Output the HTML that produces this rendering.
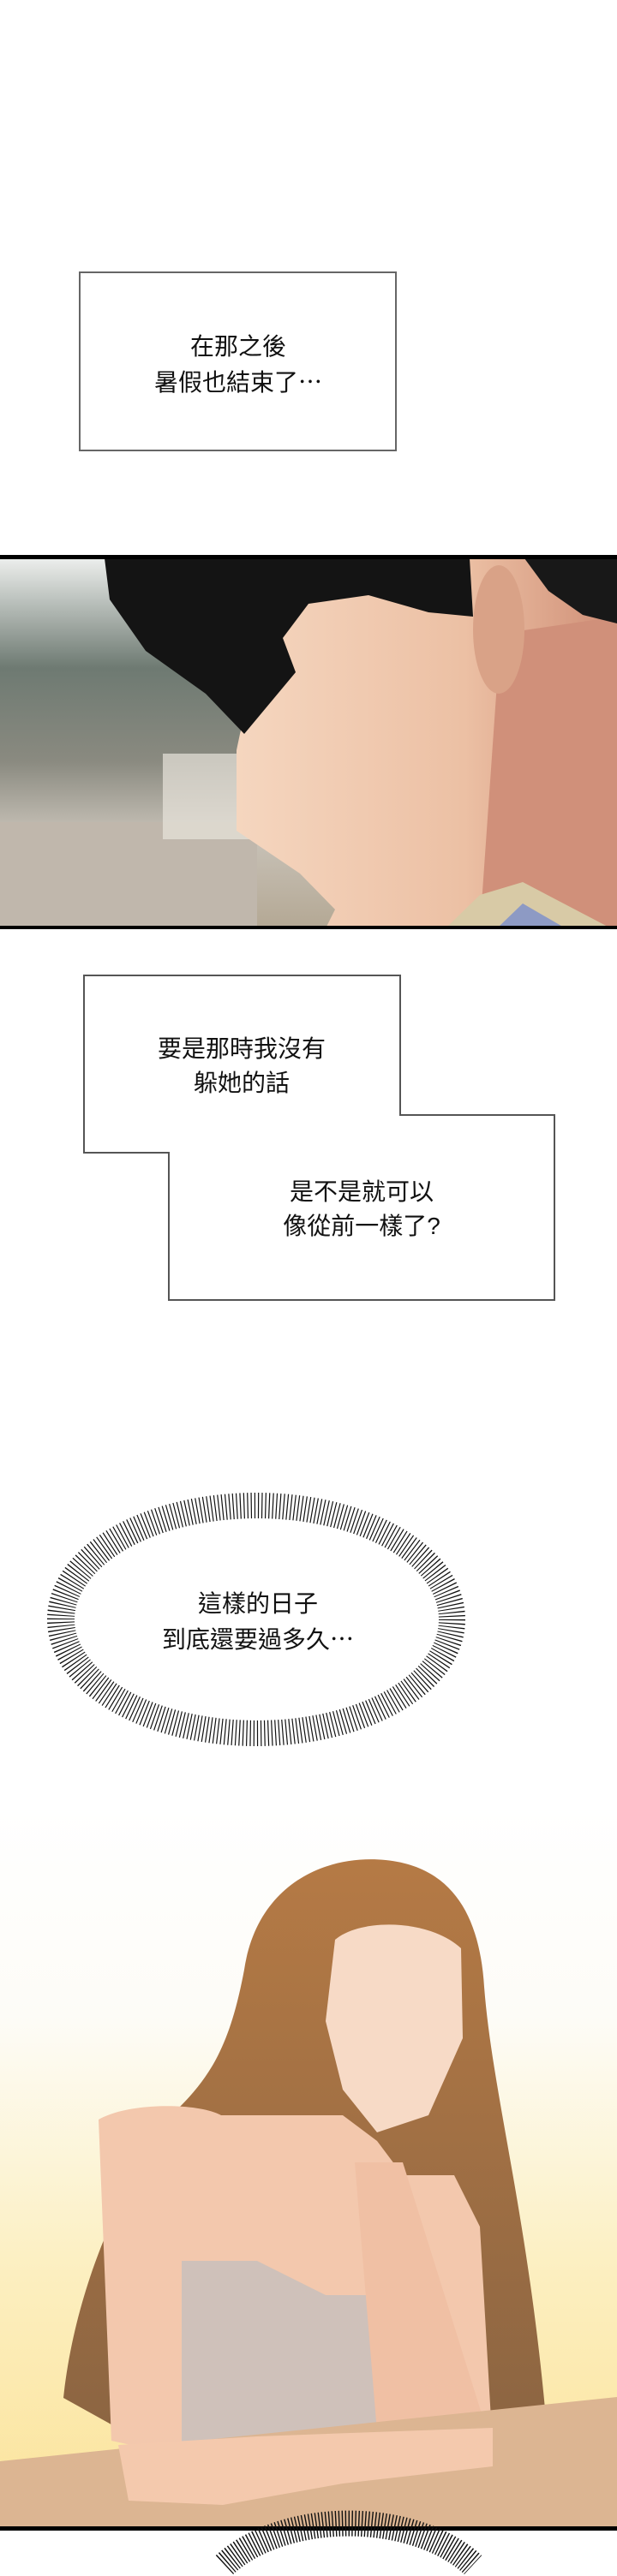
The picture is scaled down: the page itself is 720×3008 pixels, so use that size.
<!DOCTYPE html>
<html><head><meta charset="utf-8"><style>
html,body{margin:0;padding:0;background:#fff;width:720px;height:3008px;overflow:hidden;}
body{position:relative;font-family:"Liberation Sans","Noto Sans CJK TC",sans-serif;}
.t{position:absolute;font-size:28px;line-height:40px;color:#111;text-align:center;white-space:nowrap;}
.e{font-family:"Noto Sans CJK TC",sans-serif;}
</style></head><body>
<svg width="720" height="3008" viewBox="0 0 720 3008" style="position:absolute;left:0;top:0;display:block;overflow:hidden">
<defs>
<linearGradient id="bg1" x1="0" y1="0" x2="0" y2="1"><stop offset="0" stop-color="#eef0ee"/><stop offset="0.3" stop-color="#6e7a72"/><stop offset="0.55" stop-color="#8a8a80"/><stop offset="0.75" stop-color="#c8c2b8"/><stop offset="1" stop-color="#b4a894"/></linearGradient>
<linearGradient id="skin1" x1="0" y1="0" x2="1" y2="0"><stop offset="0" stop-color="#f5d6bf"/><stop offset="0.6" stop-color="#ecc0a4"/><stop offset="1" stop-color="#cf8e76"/></linearGradient>
<linearGradient id="bg2" x1="0" y1="0" x2="0" y2="1"><stop offset="0" stop-color="#ffffff"/><stop offset="0.3" stop-color="#fdfcf7"/><stop offset="0.65" stop-color="#fcefc0"/><stop offset="1" stop-color="#fbe39a"/></linearGradient>
<linearGradient id="hair2" x1="0" y1="0" x2="0" y2="1"><stop offset="0" stop-color="#b57a45"/><stop offset="1" stop-color="#8a6442"/></linearGradient>
</defs>
<rect x="93" y="318" width="369" height="208" fill="#fff" stroke="#666" stroke-width="2"/>
<rect x="0" y="650" width="720" height="434" fill="url(#bg1)"/>
<rect x="0" y="960" width="300" height="124" fill="#c0b7ac"/>
<rect x="190" y="880" width="120" height="100" fill="#e8e4dc" opacity="0.7"/>
<path d="M330 650 L720 650 L720 1084 L380 1084 L391 1062 L350 1020 L276 970 L276 876 L280 857 Z" fill="url(#skin1)"/>
<path d="M584 740 L720 720 L720 1084 L560 1084 Z" fill="#d0907a"/>
<ellipse cx="582" cy="735" rx="30" ry="75" fill="#d9a287"/>
<path d="M122 652 L548 652 L552 720 L500 715 L430 695 L360 705 L330 745 L345 785 L285 857 L240 810 L170 760 L128 700 Z" fill="#141414"/>
<path d="M612 652 L720 652 L720 728 L680 718 L640 690 Z" fill="#181818"/>
<path d="M520 1084 L560 1045 L610 1030 L713 1084 Z" fill="#d8caa6"/>
<path d="M580 1084 L610 1055 L660 1084 Z" fill="#8d9ac4"/>
<rect x="0" y="648" width="720" height="5" fill="#000"/>
<rect x="0" y="1081" width="720" height="4" fill="#000"/>
<polygon points="98,1139 467,1139 467,1302 647,1302 647,1518 197,1518 197,1346 98,1346" fill="#fff" stroke="#555" stroke-width="2"/>
<ellipse cx="299" cy="1891" rx="228" ry="132" fill="none" stroke="#111" stroke-width="32" stroke-dasharray="1.2 3"/>
<ellipse cx="300" cy="1891" rx="212" ry="118" fill="#fff"/>
<rect x="0" y="2100" width="720" height="852" fill="url(#bg2)"/>
<rect x="0" y="2040" width="720" height="80" fill="#fff" opacity="0.6"/>
<path d="M285 2300 C300 2200 380 2165 450 2172 C530 2180 560 2240 565 2320 C575 2450 620 2600 640 2860 L520 2870 L200 2870 L74 2800 C90 2650 160 2520 210 2460 C250 2420 270 2380 285 2300 Z" fill="url(#hair2)"/>
<path d="M391 2265 C420 2240 500 2240 538 2275 L540 2380 L500 2470 L440 2490 L400 2440 L380 2360 Z" fill="#f7dac6"/>
<path d="M115 2475 C150 2455 230 2455 258 2470 L340 2470 L400 2470 L440 2500 L470 2540 L530 2540 L560 2600 L575 2860 L220 2870 L130 2850 Z" fill="#f3c8ad"/>
<path d="M212 2640 L300 2640 L380 2680 L440 2680 L460 2740 L460 2860 L300 2870 L212 2860 Z" fill="#cfc1ba"/>
<path d="M414 2525 L470 2525 L500 2620 L575 2860 L530 2870 L440 2840 Z" fill="#f0c0a4"/>
<path d="M0 2874 L720 2799 L720 2952 L0 2952 Z" fill="#dcb592"/>
<path d="M138 2855 L300 2845 L575 2835 L575 2880 L400 2900 L260 2925 L150 2920 Z" fill="#f4c9ad"/>
<rect x="0" y="2950" width="720" height="5" fill="#000"/>
<path d="M262 2995 A175 110 0 0 1 552 2995" fill="none" stroke="#111" stroke-width="30" stroke-dasharray="1.4 2.4"/>
</svg>
<div class="t" style="left:128px;top:385px;width:300px;">在那之後<br>暑假也結束了<span class="e">…</span></div>
<div class="t" style="left:132px;top:1205px;width:300px;">要是那時我沒有<br>躲她的話</div>
<div class="t" style="left:272px;top:1372px;width:300px;">是不是就可以<br>像從前一樣了?</div>
<div class="t" style="left:151px;top:1853px;width:300px;">這樣的日子<br>到底還要過多久<span class="e">…</span></div>
</body></html>
